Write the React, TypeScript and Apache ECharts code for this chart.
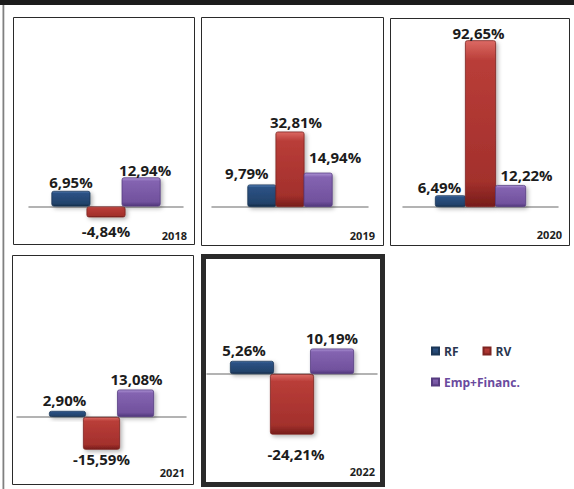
import React, { useEffect, useRef } from "react";
import * as echarts from "echarts";

// ---- data ----
const years = ["2018", "2019", "2020", "2021", "2022"];
const seriesNames = ["RF", "RV", "Emp+Financ."];
const rfValues = [6.95, 9.79, 6.49, 2.9, 5.26];
const rvValues = [-4.84, 32.81, 92.65, -15.59, -24.21];
const empValues = [12.94, 14.94, 12.22, 13.08, 10.19];

// ---- layout (per panel) ----
type Panel = {
  box: [number, number, number, number];
  lw: number;
  axis: [number, number];
  base: number;
  scale: number;
  barW: number;
  gap: string;
  lab: [number, number][];
  yearPos: [number, number];
};

const panels: Panel[] = [
  { box: [13.5, 17.5, 181, 227], lw: 1, axis: [29, 183], base: 206.5, scale: 2.25, barW: 39, gap: "-10%", lab: [[0, 2], [0, 3], [4, 3]], yearPos: [187, 235] },
  { box: [201.5, 17.5, 182, 228], lw: 1, axis: [212, 368], base: 207, scale: 2.3, barW: 29, gap: "-3%", lab: [[-15, -1], [6, 1], [17, -5]], yearPos: [375, 235] },
  { box: [390.5, 18.5, 179, 227], lw: 1, axis: [403, 558], base: 207, scale: 1.8, barW: 31, gap: "-3%", lab: [[-11, 2], [-2, 3], [16, 0]], yearPos: [562, 234] },
  { box: [12.5, 255.5, 181, 229], lw: 1, axis: [17, 186], base: 417, scale: 2.1, barW: 37, gap: "-8%", lab: [[-3, 0], [0, -1], [1, 0]], yearPos: [185, 472] },
  { box: [203.5, 256.5, 179, 228], lw: 5, axis: [207, 377], base: 374, scale: 2.5, barW: 44, gap: "-9%", lab: [[-8, 0], [4, 9], [0, 0]], yearPos: [375, 471] },
];

const grad = (c0: string, c1: string, c2: string, c3: string) =>
  new echarts.graphic.LinearGradient(0, 0, 0, 1, [
    { offset: 0, color: c0 },
    { offset: 0.12, color: c1 },
    { offset: 0.85, color: c2 },
    { offset: 1, color: c3 },
  ]);

const FONT = "'Open Sans', 'Noto Sans', sans-serif";

function fmt(v: number) {
  return v.toFixed(2).replace(".", ",") + "%";
}

export default function App() {
  const ref = useRef<HTMLDivElement>(null);

  useEffect(() => {
    if (!ref.current) return;
    const chart = echarts.init(ref.current, undefined, { renderer: "svg" });

    const allValues = [rfValues, rvValues, empValues];
    const fills = [
      grad("#5a84bb", "#2c5285", "#22426a", "#142a44"),
      grad("#dc6a64", "#b93d38", "#a3302c", "#761d1a"),
      grad("#ae94d6", "#8464b1", "#71519d", "#50367a"),
    ];
    const borders = ["#1b3657", "#7e2421", "#563c80"];

    const grids: any[] = [];
    const xAxes: any[] = [];
    const yAxes: any[] = [];
    const series: any[] = [];
    const graphics: any[] = [];

    graphics.push({ type: "rect", shape: { x: 0, y: 0, width: 574, height: 5 }, style: { fill: "#1c1c1c" } });
    graphics.push({ type: "rect", shape: { x: 2.5, y: 5, width: 1.8, height: 484 }, style: { fill: "#808080" } });

    panels.forEach((p, i) => {
      const [bx, by, bw, bh] = p.box;
      graphics.push({
        type: "rect",
        shape: { x: bx, y: by, width: bw, height: bh },
        style: { fill: "#ffffff", stroke: "#2a2a2a", lineWidth: p.lw },
        z: -1,
      });
      graphics.push({
        type: "text",
        x: p.yearPos[0],
        y: p.yearPos[1],
        style: {
          text: years[i],
          fontFamily: FONT,
          fontWeight: "bold",
          fontSize: 11,
          fill: "#1e1e1e",
          align: "right",
          verticalAlign: "middle",
        },
      });

      const top = by + 8;
      const bottom = by + bh - 8;
      const max = (p.base - top) / p.scale;
      const min = -(bottom - p.base) / p.scale;

      grids.push({ left: p.axis[0], width: p.axis[1] - p.axis[0], top, height: bottom - top });
      xAxes.push({
        type: "category",
        gridIndex: i,
        data: [years[i]],
        axisLine: { show: true, onZero: true, lineStyle: { color: "#9a9a9a", width: 1.5 } },
        axisTick: { show: false },
        axisLabel: { show: false },
        splitLine: { show: false },
      });
      yAxes.push({
        type: "value",
        gridIndex: i,
        min,
        max,
        show: false,
        splitLine: { show: false },
      });

      seriesNames.forEach((name, j) => {
        const v = allValues[j][i];
        series.push({
          type: "bar",
          name,
          xAxisIndex: i,
          yAxisIndex: i,
          barWidth: p.barW,
          barGap: p.gap,
          itemStyle: {
            color: fills[j],
            borderColor: borders[j],
            borderWidth: 0.8,
            borderRadius: 2,
            shadowBlur: 4,
            shadowColor: "rgba(0,0,0,0.3)",
            shadowOffsetX: 2,
            shadowOffsetY: 2,
          },
          data: [
            {
              value: v,
              label: {
                show: true,
                position: v >= 0 ? "top" : "bottom",
                distance: 3,
                offset: p.lab[j],
                formatter: () => fmt(v),
                fontFamily: FONT,
                fontWeight: "bold",
                fontSize: 15,
                color: "#1c1c1c",
              },
            },
          ],
        });
      });
    });

    chart.setOption({
      animation: false,
      backgroundColor: "#ffffff",
      grid: grids,
      xAxis: xAxes,
      yAxis: yAxes,
      series,
      graphic: graphics,
      legend: [
        {
          data: [
            { name: "RF", textStyle: { color: "#2a3650" } },
            { name: "RV", textStyle: { color: "#2a3650" } },
          ],
          left: 431,
          top: 345,
          padding: 0,
          icon: "rect",
          itemWidth: 7,
          itemHeight: 7,
          itemGap: 24,
          selectedMode: false,
          textStyle: { fontFamily: FONT, fontWeight: "bold", fontSize: 12 },
        },
        {
          data: [{ name: "Emp+Financ.", textStyle: { color: "#6a4a9e" } }],
          left: 431,
          top: 376,
          padding: 0,
          icon: "rect",
          itemWidth: 7,
          itemHeight: 7,
          selectedMode: false,
          textStyle: { fontFamily: FONT, fontWeight: "bold", fontSize: 12 },
        },
      ],
    });

    return () => chart.dispose();
  }, []);

  return (
    <div
      ref={ref}
      style={{ position: "absolute", left: 0, top: 0, width: 574, height: 489, background: "#fff" }}
    />
  );
}
